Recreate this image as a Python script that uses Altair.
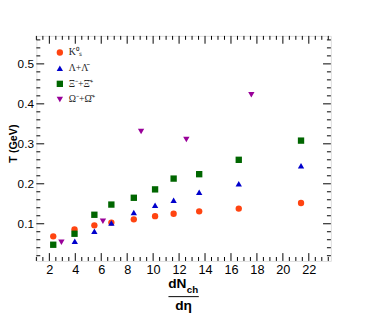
import altair as alt
import pandas as pd

# ---- data ----
species = ["K0s", "Lambda", "Xi", "Omega"]
legend_labels = ["K⁰ₛ", "Λ+Λ̄", "Ξ⁻+Ξ̄⁺", "Ω⁻+Ω̄⁺"]
colors = ["#ff4411", "#0000cc", "#006600", "#990099"]
shapes = ["circle", "triangle-up", "square", "triangle-down"]

k0s_x = [2.30, 3.94, 5.47, 6.78, 8.51, 10.15, 11.58, 13.55, 16.6, 21.4]
k0s_T = [0.0685, 0.086, 0.096, 0.103, 0.111, 0.119, 0.125, 0.131, 0.138, 0.152]
lam_x = [3.96, 5.47, 6.78, 8.51, 10.15, 11.58, 13.55, 16.6, 21.4]
lam_T = [0.056, 0.081, 0.102, 0.128, 0.146, 0.159, 0.179, 0.200, 0.245]
xi_x = [2.30, 3.94, 5.47, 6.78, 8.51, 10.15, 11.58, 13.55, 16.6, 21.4]
xi_T = [0.0475, 0.075, 0.1225, 0.148, 0.165, 0.186, 0.213, 0.224, 0.260, 0.308]
om_x = [2.93, 6.13, 9.07, 12.56, 17.57]
om_T = [0.054, 0.1065, 0.331, 0.311, 0.423]

x_major = [2, 4, 6, 8, 10, 12, 14, 16, 18, 20, 22]
y_major = [0.1, 0.2, 0.3, 0.4, 0.5]
x_minor = [v / 2 for v in range(2, 48) if v % 4 != 0]
y_minor = [v / 100 for v in range(2, 57, 2) if v % 10 != 0]

X_DOM = [1.0, 23.7]
Y_DOM = [0.007, 0.570]
W, H = 301, 230

rows = []
for lab, xs_, ts in [
    (legend_labels[0], k0s_x, k0s_T),
    (legend_labels[1], lam_x, lam_T),
    (legend_labels[2], xi_x, xi_T),
    (legend_labels[3], om_x, om_T),
]:
    for a, b in zip(xs_, ts):
        rows.append({"species": lab, "x": a, "T": b})
df = pd.DataFrame(rows)

xs = alt.Scale(domain=X_DOM, nice=False, zero=False)
ys = alt.Scale(domain=Y_DOM, nice=False, zero=False)

x_axis = alt.Axis(values=x_major, title=None, ticks=False, domain=False,
                  grid=False, labelFontSize=13, labelFont="Liberation Sans",
                  labelColor="black", labelPadding=3, labelFlush=False,
                  labelOverlap=False)
y_axis = alt.Axis(values=y_major, format=".1f", title=None, ticks=False,
                  domain=False, grid=False, labelFontSize=12,
                  labelFont="Liberation Sans", labelColor="black",
                  labelPadding=3, labelFlush=False, labelOverlap=False)

points = alt.Chart(df).mark_point(filled=True, opacity=1, size=42).encode(
    x=alt.X("x:Q", scale=xs, axis=x_axis),
    y=alt.Y("T:Q", scale=ys, axis=y_axis),
    color=alt.Color("species:N", scale=alt.Scale(domain=legend_labels, range=colors),
                    legend=alt.Legend(orient="none", legendX=19, legendY=12, title=None,
                                      labelFont="Liberation Serif", labelFontSize=10,
                                      labelColor="#222222", symbolSize=42,
                                      rowPadding=6, symbolStrokeWidth=0)),
    shape=alt.Shape("species:N", scale=alt.Scale(domain=legend_labels, range=shapes)),
)

def ticks_x(vals, length, top):
    d = pd.DataFrame({"v": vals})
    if top:
        return alt.Chart(d).mark_rule(color="black", strokeWidth=1).encode(
            x=alt.X("v:Q", scale=xs, axis=x_axis), y=alt.value(0), y2=alt.value(length))
    return alt.Chart(d).mark_rule(color="black", strokeWidth=1).encode(
        x=alt.X("v:Q", scale=xs, axis=x_axis), y=alt.value(H), y2=alt.value(H - length))

def ticks_y(vals, length, right):
    d = pd.DataFrame({"v": vals})
    if right:
        return alt.Chart(d).mark_rule(color="black", strokeWidth=1).encode(
            y=alt.Y("v:Q", scale=ys, axis=y_axis), x=alt.value(W), x2=alt.value(W - length))
    return alt.Chart(d).mark_rule(color="black", strokeWidth=1).encode(
        y=alt.Y("v:Q", scale=ys, axis=y_axis), x=alt.value(0), x2=alt.value(length))

tick_layers = [
    ticks_x(x_major, 8, False), ticks_x(x_minor, 4, False),
    ticks_x(x_major, 8, True), ticks_x(x_minor, 4, True),
    ticks_y(y_major, 8, False), ticks_y(y_minor, 4, False),
    ticks_y(y_major, 8, True), ticks_y(y_minor, 4, True),
]

def label(text, x, y, size, angle=0, weight="bold", baseline="middle"):
    return alt.Chart(pd.DataFrame({"t": [text]})).mark_text(
        font="Liberation Sans", fontSize=size, fontWeight=weight, color="black",
        angle=angle, align="center", baseline=baseline).encode(
        text="t:N", x=alt.value(x), y=alt.value(y))

frac_line = alt.Chart(pd.DataFrame({"t": [0]})).mark_rule(color="black", strokeWidth=1).encode(
    x=alt.value(135), x2=alt.value(166), y=alt.value(266.5))

titles = [
    label("dN", 144, 254, 14),
    label("ch", 159.5, 259.5, 10),
    frac_line,
    label("dη", 150.5, 276, 14),
    label("T (GeV)", -28.5, 110, 11, angle=270, baseline="top"),
]

chart = alt.layer(*tick_layers, points, *titles).properties(
    width=W, height=H,
    autosize=alt.AutoSizeParams(type="none"),
    padding={"left": 29, "top": 25, "right": 40, "bottom": 63},
).configure_view(stroke="black", strokeWidth=1).configure(background="white")

chart.save("out.html", embed_options={"renderer": "svg", "actions": False})
